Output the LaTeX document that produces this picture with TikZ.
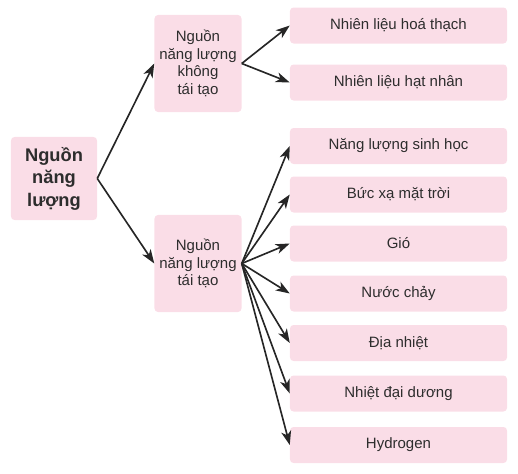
\documentclass[tikz,border=0pt]{standalone}
\usepackage{fontspec}
\setmainfont{Liberation Sans}
\usetikzlibrary{arrows.meta}
\definecolor{hongnhat}{RGB}{250,221,231}
\definecolor{chuxam}{RGB}{45,45,45}
\tikzset{
  hop/.style={fill=hongnhat,rounded corners=3pt,inner sep=0pt,align=center,text=chuxam},
  goc/.style={hop,minimum width=2.58cm,minimum height=2.49cm,font=\bfseries\fontsize{15.6}{19.2}\selectfont},
  nhanh/.style={hop,minimum width=2.61cm,minimum height=2.91cm,font=\fontsize{12.8}{15.1}\selectfont},
  la/.style={hop,minimum width=6.51cm,minimum height=1.08cm,font=\fontsize{12.8}{15}\selectfont},
  muiten/.style={-{Stealth[length=4.2mm,width=3mm,inset=1.2mm]},line width=1.4pt,black!85}
}
\begin{document}
\begin{tikzpicture}[x=0.03cm,y=-0.03cm]
    \useasboundingbox (0,0) rectangle (518,474);

    \node[goc] (nguon) at (54,178.5) {Nguồn\\năng\\lượng};
    \node[nhanh] (khongtaitao) at (198,63.5) {Nguồn\\năng lượng\\không\\tái tạo};
    \node[nhanh] (taitao) at (198,263.5) {Nguồn\\năng lượng\\tái tạo};

    \node[la] (hoathach) at (398.5,25.5) {Nhiên liệu hoá thạch};
    \node[la] (hatnhan) at (398.5,82.5) {Nhiên liệu hạt nhân};
    \node[la] (sinhhoc) at (398.5,146) {Năng lượng sinh học};
    \node[la] (buc) at (398.5,194.5) {Bức xạ mặt trời};
    \node[la] (gio) at (398.5,243.5) {Gió};
    \node[la] (nuoc) at (398.5,293.5) {Nước chảy};
    \node[la] (dianhiet) at (398.5,343) {Địa nhiệt};
    \node[la] (daiduong) at (398.5,393.5) {Nhiệt đại dương};
    \node[la] (hydro) at (398.5,445) {Hydrogen};

    \draw [muiten] (nguon.east)--(khongtaitao.west);
    \draw [muiten] (nguon.east)--(taitao.west);
    \draw [muiten] (khongtaitao.east)--(hoathach.west);
    \draw [muiten] (khongtaitao.east)--(hatnhan.west);
    \foreach \n in {sinhhoc,buc,gio,nuoc,dianhiet,daiduong,hydro}
        \draw [muiten] (taitao.east)--(\n.west);
\end{tikzpicture}
\end{document}
